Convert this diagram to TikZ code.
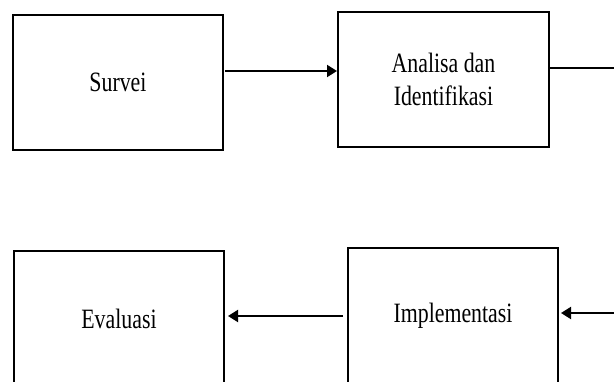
\documentclass[tikz,border=0pt]{standalone}
\usepackage{fontspec}
\setmainfont{Liberation Serif}
\newfontfamily\boxfont[FakeStretch=0.78]{Liberation Serif}
\usetikzlibrary{arrows.meta}
\tikzset{
  procbox/.style={draw=black, line width=2pt, fill=white, minimum width=210pt, minimum height=135pt,
    inner sep=0pt, align=center, font=\boxfont\fontsize{28}{33}\selectfont},
  conn/.style={line width=2pt, draw=black},
  arr/.style={conn, -{Triangle[length=10pt,width=12pt]}}
}
\begin{document}
\begin{tikzpicture}[x=1pt,y=-1pt]
\useasboundingbox (0,0) rectangle (614,381);
\clip (0,0) rectangle (614,381);
\fill[white] (0,0) rectangle (614,381);
\node[procbox] (s) at (118,82.5) {Survei};
\node[procbox, minimum width=211pt] (a) at (443.5,79.5) {Analisa dan\\Identifikasi};
\node[procbox] (ev) at (119,318.5) {Evaluasi};
\node[procbox] (im) at (453,315.5) {Implementasi};
\coordinate (r1) at (0,71);
\coordinate (e1) at (614,68);
\coordinate (e2) at (614,313);
\coordinate (r2) at (0,316);
\draw[arr, shorten <=1pt] (s.east |- r1) -- (a.west |- r1);
\draw[conn] (a.east |- e1) -- (e1);
\draw[arr, shorten >=2pt] (e2) -- (im.east |- e2);
\draw[arr, shorten <=4pt, shorten >=3pt] (im.west |- r2) -- (ev.east |- r2);
\end{tikzpicture}
\end{document}
